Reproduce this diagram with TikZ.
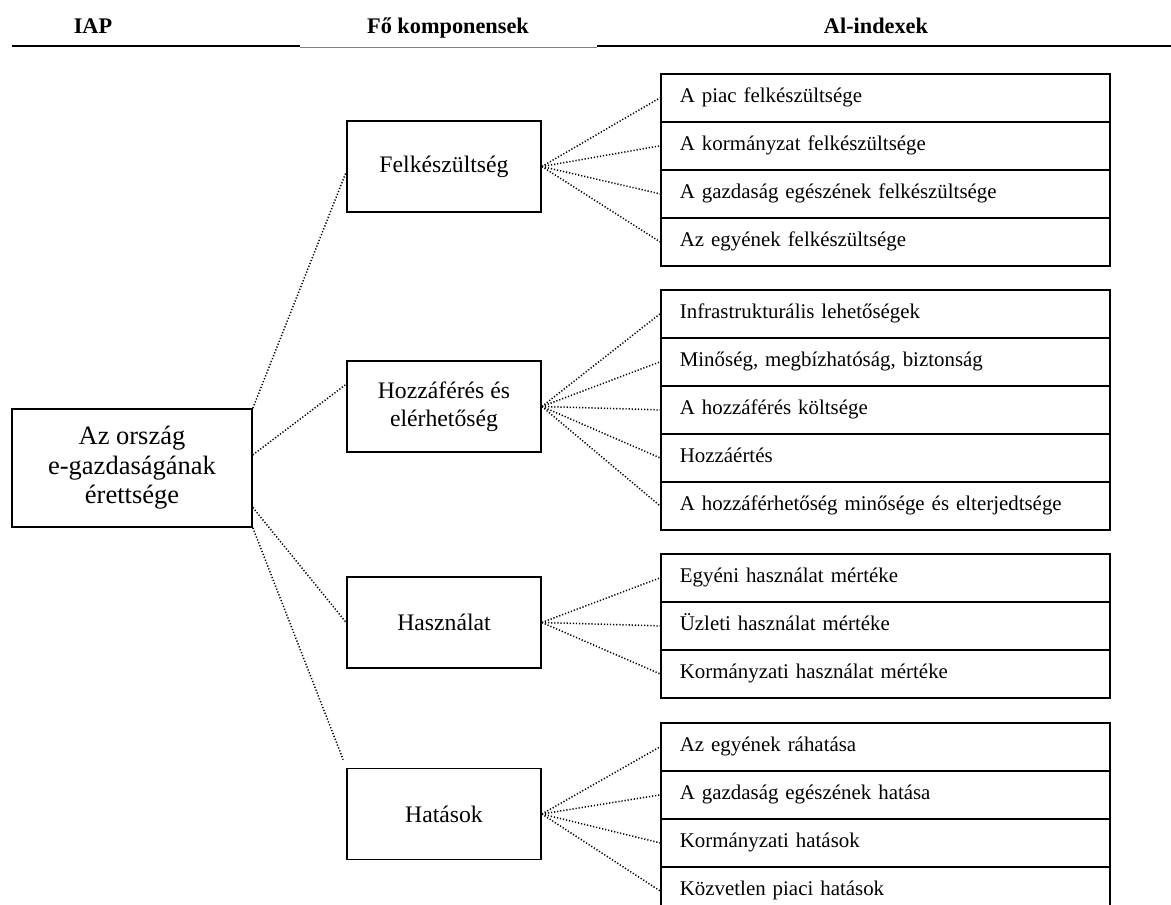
\documentclass[tikz,border=0pt]{standalone}
\usepackage{fontspec}
\setmainfont{Liberation Serif}
\usetikzlibrary{calc}

\tikzset{
  frame/.style={draw=black, line width=1.7pt, fill=white, inner sep=0pt},
  rootbox/.style={frame, minimum width=240pt, minimum height=118pt, align=center,
    font=\fontsize{26.5}{29.5}\selectfont},
  mainbox/.style={frame, minimum width=194pt, minimum height=91pt, align=center,
    font=\fontsize{23.7}{28}\selectfont},
  subrow/.style={frame, anchor=north west, inner xsep=19pt, inner ysep=0pt,
    text width=411pt, align=left, minimum height=48pt,
    text height=14.5pt, text depth=4.5pt, font=\fontsize{20.9}{25}\selectfont},
  hdr/.style={anchor=base, inner sep=0pt, font=\fontsize{22.3}{26}\selectfont\bfseries},
  link/.style={line width=1.5pt, dash pattern=on 1.2pt off 1.9pt, black},
  rule/.style={line width=2pt, black},
}

\begin{document}
\begin{tikzpicture}[x=1pt, y=-1pt]
  \useasboundingbox (0,0) rectangle (1171,905);
  \clip (0,0) rectangle (1171,905);

  % column headings and their rules
  \node[hdr] (hIAP) at (93,33) {IAP};
  \node[hdr] (hFo) at (448,33) {Fő komponensek};
  \node[hdr] (hAl) at (876,33) {Al-indexek};
  \draw[rule] (12,46) -- (300,46);
  \draw[line width=1pt, gray] (300,47) -- (597,47);
  \draw[rule] (597,46) -- (1171,46);

  % index
  \node[rootbox] (root) at (132,468) {Az ország\\e-gazdaságának\\érettsége};

  % main components
  \node[mainbox] (felk) at (444,166.5) {Felkészültség};
  \node[mainbox] (hozz) at (444,406.5) {Hozzáférés és\\elérhetőség};
  \node[mainbox] (hasz) at (444,622.5) {Használat};
  \node[mainbox] (hat)  at (444,814)   {Hatások};

  % sub-indices
  \node[subrow] (f1) at (660,73)  {A piac felkészültsége};
  \node[subrow] (f2) at (660,121) {A kormányzat felkészültsége};
  \node[subrow] (f3) at (660,169) {A gazdaság egészének felkészültsége};
  \node[subrow] (f4) at (660,217) {Az egyének felkészültsége};

  \node[subrow] (a1) at (660,289) {Infrastrukturális lehetőségek};
  \node[subrow] (a2) at (660,337) {Minőség, megbízhatóság, biztonság};
  \node[subrow] (a3) at (660,385) {A hozzáférés költsége};
  \node[subrow] (a4) at (660,433) {Hozzáértés};
  \node[subrow] (a5) at (660,481) {A hozzáférhetőség minősége és elterjedtsége};

  \node[subrow] (u1) at (660,553) {Egyéni használat mértéke};
  \node[subrow] (u2) at (660,601) {Üzleti használat mértéke};
  \node[subrow] (u3) at (660,649) {Kormányzati használat mértéke};

  \node[subrow] (h1) at (660,722) {Az egyének ráhatása};
  \node[subrow] (h2) at (660,770) {A gazdaság egészének hatása};
  \node[subrow] (h3) at (660,818) {Kormányzati hatások};
  \node[subrow] (h4) at (660,866) {Közvetlen piaci hatások};

  % index to main components
  \draw[link] (root.north east) -- ($(felk.north west)!0.56!(felk.south west)$);
  \draw[link] ($(root.north east)!0.39!(root.south east)$) -- ($(hozz.north west)!0.26!(hozz.south west)$);
  \draw[link] ($(root.north east)!0.83!(root.south east)$) -- (hasz.west);
  \draw[link] (root.south east) -- ($(hat.north west)+(-3,-8)$);

  % main components to sub-indices
  \foreach \s in {f1,f2,f3,f4} \draw[link] (felk.east) -- (\s.west);
  \foreach \s in {a1,a2,a3,a4,a5} \draw[link] (hozz.east) -- (\s.west);
  \foreach \s in {u1,u2,u3} \draw[link] (hasz.east) -- (\s.west);
  \foreach \s in {h1,h2,h3,h4} \draw[link] (hat.east) -- (\s.west);
\end{tikzpicture}
\end{document}
